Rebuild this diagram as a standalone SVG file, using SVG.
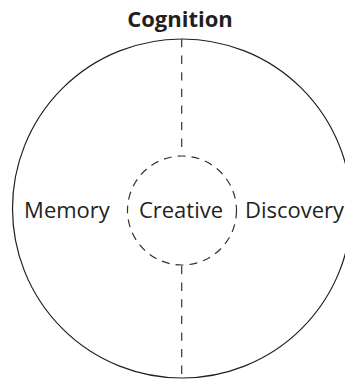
<svg xmlns="http://www.w3.org/2000/svg" width="345" height="379" viewBox="0 0 345 379">
<style>
.lbl{font-family:"Open Sans","Noto Sans",sans-serif;font-size:22px;fill:#231f20;text-anchor:middle}
.title{font-family:"Open Sans","Noto Sans",sans-serif;font-size:22px;font-weight:bold;fill:#231f20;text-anchor:middle}
.outer{fill:none;stroke:#231f20;stroke-width:1.2}
.dash{fill:none;stroke:#333;stroke-width:1.2;stroke-dasharray:8.3 8.3}
.cdash{fill:none;stroke:#333;stroke-width:1.2;stroke-dasharray:8 6}
</style>
<rect width="345" height="379" fill="#fff"/>
<g id="cognition">
<circle class="outer" cx="182" cy="208.5" r="169.5"/>
<text class="title" x="180" y="26.7">Cognition</text>
</g>
<g id="connectors">
<line class="dash" x1="181.7" y1="39" x2="181.7" y2="155"/>
<line class="dash" x1="181.7" y1="266" x2="181.7" y2="378"/>
</g>
<g id="memory">
<text class="lbl" x="67" y="218.3">Memory</text>
</g>
<g id="creative">
<circle class="cdash" cx="182" cy="210.5" r="54.5"/>
<text class="lbl" x="181" y="218.3">Creative</text>
</g>
<g id="discovery">
<text class="lbl" x="294.5" y="218.3">Discovery</text>
</g>
</svg>
